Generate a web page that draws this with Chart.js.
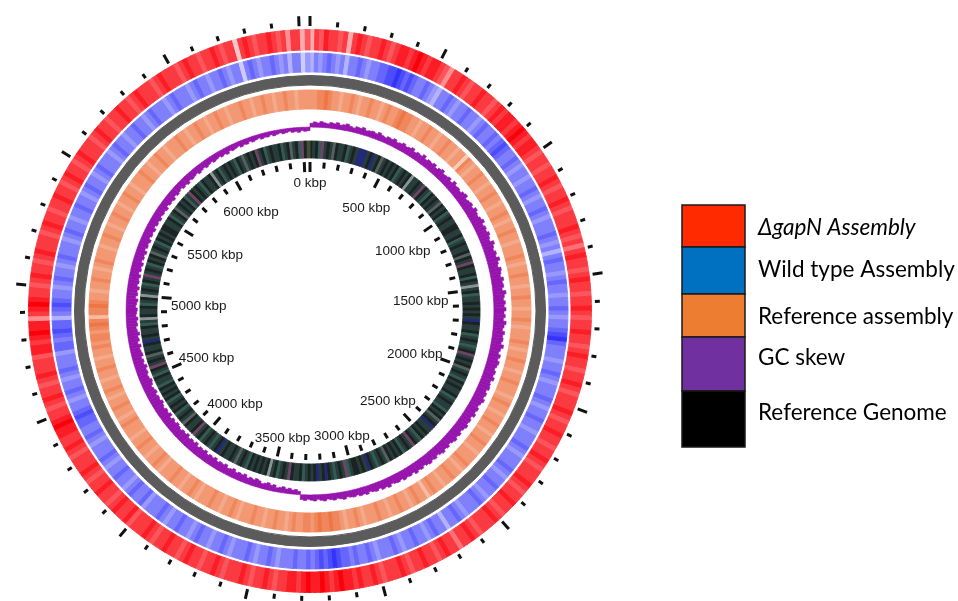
<!DOCTYPE html>
<html>
<head>
<meta charset="utf-8">
<title>Genome comparison map</title>
<script src="https://cdn.jsdelivr.net/npm/chart.js@4.4.1/dist/chart.umd.min.js"></script>
<style>
  html, body { margin: 0; padding: 0; background: #fff; }
  #plot { position: relative; width: 958px; height: 601px; }
  #plot canvas { position: absolute; left: 0; top: 0; }
</style>
</head>
<body>
<div id="plot">
  <canvas id="rings" width="958" height="601"></canvas>
  <canvas id="skew" width="958" height="601"></canvas>
</div>
<script>
// genome length and scale marks (kbp)
const genomeKbp = 6540;
const tickStepKbp = 100;
const majorStepKbp = 500;
const positionKbp = [0, 500, 1000, 1500, 2000, 2500, 3000, 3500, 4000, 4500, 5000, 5500, 6000];
const positionLabels = ['0 kbp', '500 kbp', '1000 kbp', '1500 kbp', '2000 kbp', '2500 kbp', '3000 kbp',
  '3500 kbp', '4000 kbp', '4500 kbp', '5000 kbp', '5500 kbp', '6000 kbp'];

const legendLabels = ['ΔgapN Assembly', 'Wild type Assembly', 'Reference assembly', 'GC skew', 'Reference Genome'];
const legendColors = ['#ff2a00', '#0070c0', '#ed7d31', '#7030a0', '#000000'];

// BLAST identity per window (0 = no hit, 9 = full identity), 360 windows of ~18 kbp
const mutantIdentity = [
  3,7,6,8,7,7,6,7,3,7,8,7,6,7,7,8,7,6,7,8,8,7,8,9,8,7,8,8,7,6,
  4,7,7,8,7,6,7,7,8,7,7,6,7,8,7,8,8,7,8,9,8,7,8,8,7,6,7,7,6,7,
  7,8,7,6,7,7,8,7,6,7,7,7,8,7,6,7,5,7,8,7,7,6,7,8,7,7,6,7,7,8,
  7,6,7,7,8,7,7,6,7,8,7,7,6,7,7,8,7,6,7,7,7,8,7,6,7,7,8,7,7,6,
  7,7,8,7,6,7,7,7,8,7,6,7,7,8,7,7,6,7,8,7,7,7,6,7,8,7,7,5,7,7,
  8,7,6,7,7,8,7,7,6,7,8,7,7,7,6,7,8,7,7,8,7,8,8,9,8,7,8,9,8,8,
  9,8,7,8,8,7,7,6,7,8,7,7,6,7,8,7,7,7,6,7,8,7,7,6,7,7,8,7,6,7,
  7,8,7,7,6,7,8,7,7,7,6,8,7,7,8,7,6,7,7,8,7,7,6,7,8,7,7,7,6,7,
  8,7,7,8,8,9,8,7,7,6,7,8,7,7,6,7,8,7,7,7,6,8,8,7,8,9,8,8,4,7,
  8,9,8,7,7,6,7,8,7,7,6,7,8,7,7,7,6,7,8,7,7,6,7,7,8,7,7,6,7,8,
  7,7,6,7,8,7,7,7,6,7,8,7,7,6,7,7,8,7,7,6,7,8,7,7,7,6,7,8,7,7,
  7,6,7,8,7,7,6,7,7,8,7,6,7,7,2,7,8,7,6,7,7,8,7,6,7,4,7,7,3,6
];
const wildTypeIdentity = [
  3,5,4,5,6,5,4,5,3,5,5,6,5,4,5,5,6,6,7,7,8,7,6,7,6,5,5,6,5,4,
  3,5,5,6,5,4,5,5,6,5,5,4,5,6,5,5,6,5,6,7,6,5,5,6,5,4,5,5,4,5,
  5,6,5,4,5,5,6,5,4,5,5,5,6,5,4,5,3,5,6,5,5,4,5,6,5,5,4,5,5,6,
  5,4,5,5,6,7,8,6,5,5,5,4,5,5,6,5,4,5,5,5,6,5,4,5,5,6,5,5,4,5,
  5,5,6,5,4,5,5,5,6,5,4,5,5,6,5,5,4,5,6,5,5,5,4,5,6,5,5,3,5,5,
  6,5,4,5,5,6,5,5,4,5,6,5,5,5,4,5,6,5,5,6,5,6,6,7,8,7,6,7,6,5,
  6,5,5,6,5,5,5,4,5,6,5,5,4,5,6,5,5,5,4,5,6,5,5,4,5,5,6,5,4,5,
  5,6,5,5,4,5,6,5,5,5,4,6,5,5,6,5,4,5,5,6,5,5,4,5,6,5,5,5,4,5,
  6,5,5,6,6,7,6,5,5,4,5,6,5,5,4,5,6,5,5,5,4,6,6,5,6,7,6,6,3,5,
  6,7,6,5,5,4,5,6,5,5,4,5,6,5,5,5,4,5,6,5,5,4,5,5,6,5,5,4,5,6,
  5,5,4,5,6,5,5,5,4,5,6,5,5,4,5,5,6,5,5,4,5,6,5,5,5,4,5,6,5,5,
  5,4,5,6,5,5,4,5,5,6,5,4,5,5,2,5,6,5,4,5,5,6,5,4,5,3,5,5,2,4
];
const referenceIdentity = [
  6,6,7,7,8,7,6,6,5,6,6,7,6,5,6,6,7,6,6,5,6,7,6,6,7,8,7,7,6,6,
  5,6,6,7,6,6,5,6,6,7,6,6,5,6,6,3,7,6,5,6,6,7,6,6,5,6,6,7,6,6,
  5,6,6,7,6,5,6,6,7,6,6,5,6,6,6,7,6,5,6,6,7,6,6,5,6,6,7,6,6,5,
  6,6,7,6,5,6,6,6,7,6,5,6,6,7,6,6,5,6,6,7,6,6,6,5,6,7,6,6,5,6,
  6,7,6,6,5,6,6,7,6,6,5,6,6,6,7,6,5,6,6,7,6,6,5,6,6,7,6,4,6,6,
  7,6,5,6,6,7,6,6,5,6,6,7,6,6,6,5,6,7,6,6,5,6,7,7,8,7,7,8,7,6,
  7,7,6,6,7,6,5,6,6,7,6,6,5,6,6,7,6,6,6,5,6,7,6,6,5,6,6,7,6,6,
  6,5,6,7,6,6,5,6,6,7,6,6,6,5,6,7,6,6,5,6,6,7,6,6,5,6,6,6,7,6,
  5,6,6,7,6,6,5,6,7,6,6,5,6,6,7,6,6,5,6,6,7,6,7,7,6,7,8,7,4,7,
  7,8,7,6,6,5,6,6,7,6,6,5,6,7,6,6,6,5,6,6,7,6,6,5,6,6,7,6,6,5,
  6,6,7,6,6,5,6,6,6,7,6,6,5,6,6,7,6,6,5,6,6,6,7,6,6,5,6,6,7,6,
  6,5,6,6,7,6,6,5,6,6,6,7,6,6,5,6,6,7,6,6,5,6,6,7,6,6,5,6,6,6
];

// feature class per window on the reference genome ring
const genomeFeatures = [
  0,1,0,2,6,1,0,1,4,0,1,1,0,2,1,0,1,3,3,3,1,0,3,1,0,4,1,0,1,0,
  1,0,2,1,0,1,0,5,1,1,0,1,6,0,1,2,0,1,0,1,4,0,1,0,2,1,0,1,1,0,
  0,1,1,0,2,1,0,1,1,0,4,0,1,6,0,1,1,0,2,0,1,5,1,0,2,1,1,0,1,0,
  1,0,1,3,0,1,1,0,2,1,0,1,2,1,0,6,1,0,1,0,4,1,0,1,2,0,1,0,1,1,
  0,2,1,0,1,1,2,0,1,0,4,1,0,3,1,1,0,1,0,2,1,0,6,1,0,1,2,0,1,0,
  1,0,4,1,0,1,2,1,0,3,1,0,1,0,0,1,2,6,1,0,1,2,1,0,3,0,1,3,0,1,
  0,1,2,0,1,1,0,6,1,0,1,2,0,1,5,0,1,0,1,0,1,0,2,1,0,1,4,1,0,1,
  1,0,1,3,0,1,2,1,0,1,2,0,1,6,0,1,1,0,4,1,0,1,2,0,1,0,1,2,0,1,
  0,1,0,2,1,1,0,2,1,0,6,1,0,1,4,0,1,1,0,3,1,0,1,1,0,2,1,5,0,1,
  1,0,2,1,0,5,1,0,1,2,0,1,6,1,0,1,2,0,1,0,4,1,0,1,2,0,1,0,1,0,
  0,1,1,0,2,1,0,4,1,0,1,0,2,1,6,0,1,0,1,2,0,1,1,0,5,1,0,2,1,0,
  1,0,1,2,0,1,4,1,0,1,0,6,1,0,2,1,0,1,1,0,2,1,0,4,1,0,2,6,0,7
];
const featureColors = ['#1a2222', '#263d3a', '#345a54', '#222a78', '#55605f', '#8a9494', '#6e4466', '#444f36'];

// GC skew per window, in thousandths
const gcSkew = [
  18,24,20,27,22,19,26,23,29,21,25,31,24,20,28,26,33,23,27,30,25,35,28,24,32,29,36,27,31,38,
  30,34,41,29,36,33,44,31,38,35,42,30,39,46,34,37,43,33,48,38,41,36,45,50,37,42,47,39,52,44,
  40,47,55,42,49,44,53,46,41,57,48,43,51,45,58,47,42,54,49,44,56,48,52,43,59,50,45,53,47,55,
  46,52,44,57,49,43,54,47,51,45,58,48,42,53,46,55,50,44,52,47,56,45,49,53,43,51,46,55,48,42,
  50,45,53,41,48,44,52,46,40,49,43,51,45,39,47,42,50,44,38,46,41,48,43,37,45,40,47,36,42,39,
  44,35,41,38,33,43,36,40,31,38,34,29,37,32,35,28,33,30,26,34,29,25,31,27,23,30,26,21,28,24,
  20,26,22,-15,-22,-18,-25,-20,-28,-23,-19,-30,-25,-33,-27,-22,-31,-36,-28,-33,-26,-38,-31,-35,-29,-40,-34,-30,-42,-36,
  -39,-33,-44,-37,-41,-35,-46,-39,-43,-36,-48,-40,-45,-38,-50,-42,-46,-39,-44,-49,-41,-47,-38,-51,-43,-48,-40,-45,-52,-44,
  -47,-41,-50,-44,-39,-48,-53,-45,-42,-49,-46,-54,-43,-48,-41,-51,-47,-44,-52,-40,-49,-45,-55,-46,-42,-50,-47,-53,-44,-48,
  -51,-43,-47,-52,-41,-49,-45,-53,-42,-48,-44,-50,-39,-47,-43,-49,-38,-45,-41,-48,-36,-44,-40,-46,-35,-42,-38,-44,-33,-41,
  -37,-43,-34,-39,-36,-42,-31,-38,-35,-40,-30,-37,-33,-28,-36,-32,-38,-29,-34,-31,-27,-35,-30,-26,-33,-28,-24,-31,-27,-23,
  -29,-25,-31,-22,-27,-24,-20,-28,-23,-26,-19,-25,-21,-17,-24,-20,-22,-16,-23,-19,-15,-21,-18,-14,-20,-17,-22,-15,-19,-16
];

const RED = [250, 0, 10];
const BLUE = [25, 25, 250];
const ORANGE = [236, 100, 45];
const PURPLE = '#9613ad';

// blend a full-identity colour towards white for weaker hits
function shade(rgb, level) {
  const f = level / 9;
  const c = rgb.map(v => Math.round(255 + (v - 255) * f));
  return `rgb(${c[0]},${c[1]},${c[2]})`;
}

function ring(colors, weight) {
  return {
    data: colors.map(() => 1),
    backgroundColor: colors,
    borderColor: colors,
    borderWidth: 1,
    hoverBorderWidth: 1,
    hoverOffset: 0,
    weight: weight
  };
}

function gap(weight) {
  return { data: [1], backgroundColor: 'rgba(0,0,0,0)', borderWidth: 0, hoverBorderWidth: 0, hoverOffset: 0, weight: weight };
}

function tick(ctx, cx, cy, a, r0, r1) {
  const sx = Math.sin(a), sy = -Math.cos(a);
  ctx.beginPath();
  ctx.moveTo(cx + sx * r0, cy + sy * r0);
  ctx.lineTo(cx + sx * r1, cy + sy * r1);
  ctx.stroke();
}

// put a label on the ray at angle a, pushed in until its far corner touches radius reach
function placeLabel(ctx, text, cx, cy, a, reach) {
  const w = ctx.measureText(text).width, h = 13;
  const ux = Math.sin(a), uy = -Math.cos(a);
  const hx = (ux >= 0 ? 1 : -1) * w / 2;
  const hy = (uy >= 0 ? 1 : -1) * h / 2;
  const p = ux * hx + uy * hy;
  const d = -p + Math.sqrt(p * p - (hx * hx + hy * hy - reach * reach));
  ctx.fillText(text, cx + d * ux, cy + d * uy);
}

const mapDecor = {
  id: 'mapDecor',
  afterDatasetsDraw(chart) {
    const {ctx, chartArea} = chart;
    const cx = (chartArea.left + chartArea.right) / 2;
    const cy = (chartArea.top + chartArea.bottom) / 2;
    ctx.save();

    // position ticks outside the rings and inside the genome ring
    ctx.strokeStyle = '#111';
    ctx.lineWidth = 3;
    for (let k = 0; k <= genomeKbp; k += tickStepKbp) {
      const major = k % majorStepKbp === 0;
      const a = k / genomeKbp * Math.PI * 2;
      tick(ctx, cx, cy, a, 285, major ? 295 : 290);
      tick(ctx, cx, cy, a, major ? 139 : 143, 149);
    }

    // position labels sit a little below the ring centre line
    ctx.fillStyle = '#1a1a1a';
    ctx.font = '13.5px "Liberation Sans", Arial, sans-serif';
    ctx.textAlign = 'center';
    ctx.textBaseline = 'middle';
    positionKbp.forEach((k, i) => {
      placeLabel(ctx, positionLabels[i], cx, cy + 5, k / genomeKbp * Math.PI * 2, 140);
    });

    // legend
    const boxX = 682, boxW = 63;
    const edges = [205, 247, 294, 337, 391, 447];
    const textY = [228, 270, 317, 358, 413];
    ctx.textAlign = 'left';
    legendLabels.forEach((label, i) => {
      ctx.fillStyle = legendColors[i];
      ctx.fillRect(boxX, edges[i], boxW, edges[i + 1] - edges[i]);
      ctx.strokeStyle = '#1a1a1a';
      ctx.lineWidth = 1.5;
      ctx.strokeRect(boxX, edges[i], boxW, edges[i + 1] - edges[i]);
      ctx.fillStyle = '#000';
      ctx.font = (i === 0 ? 'italic ' : '') + '22.5px Lato, "Open Sans", sans-serif';
      ctx.fillText(label, 758, textY[i]);
    });
    ctx.restore();
  }
};

// GC skew bars start at the zero circle instead of the centre
const skewBaseline = {
  id: 'skewBaseline',
  afterDatasetUpdate(chart, args) {
    const zero = chart.scales.r.getDistanceFromCenterForValue(0);
    args.meta.data.forEach(arc => {
      const edge = arc.outerRadius;
      arc.innerRadius = Math.min(zero, edge);
      arc.outerRadius = Math.max(zero, edge);
    });
  }
};

const padding = { left: 28, top: 29, right: 366, bottom: 8 };
const common = {
  responsive: false,
  animation: false,
  events: [],
  layout: { padding: padding },
  plugins: { legend: { display: false }, tooltip: { enabled: false } }
};

new Chart(document.getElementById('rings'), {
  type: 'doughnut',
  data: {
    datasets: [
      ring(mutantIdentity.map(l => shade(RED, l)), 20.5),
      gap(3),
      ring(wildTypeIdentity.map(l => shade(BLUE, l)), 19),
      gap(3.5),
      ring(['#5b5b5b'], 9.5),
      gap(5),
      ring(referenceIdentity.map(l => shade(ORANGE, l)), 19),
      gap(32),
      ring(genomeFeatures.map(c => featureColors[c]), 17)
    ]
  },
  options: Object.assign({ cutout: 153 }, common),
  plugins: [mapDecor]
});

new Chart(document.getElementById('skew'), {
  type: 'polarArea',
  data: {
    datasets: [{
      data: gcSkew,
      backgroundColor: PURPLE,
      borderColor: PURPLE,
      borderWidth: 0.6
    }]
  },
  options: Object.assign({
    scales: { r: { display: false, min: -836, max: 446, bounds: 'data' } }
  }, common),
  plugins: [skewBaseline]
});
</script>
</body>
</html>
